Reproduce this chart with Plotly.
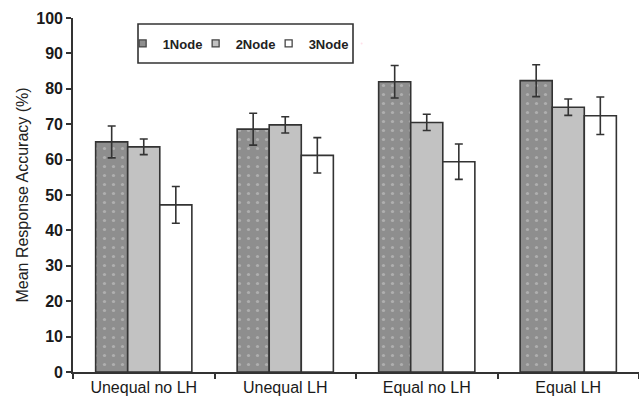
import plotly.graph_objects as go

categories = ["Unequal no LH", "Unequal LH", "Equal no LH", "Equal LH"]
series_names = ["1Node", "2Node", "3Node"]
node1 = [65.0, 68.6, 82.0, 82.3]
node1_err = [4.5, 4.5, 4.6, 4.5]
node2 = [63.6, 69.8, 70.5, 74.8]
node2_err = [2.2, 2.3, 2.3, 2.3]
node3 = [47.2, 61.2, 59.4, 72.4]
node3_err = [5.2, 5.0, 5.0, 5.3]
y_ticks = list(range(0, 101, 10))

edge = "#333333"
fills = ["#8e8e8e", "#c2c2c2", "#ffffff"]
fig = go.Figure()
for i, (name, vals, errs) in enumerate(zip(series_names, [node1, node2, node3], [node1_err, node2_err, node3_err])):
    marker = dict(color=fills[i], line=dict(color=edge, width=1.6))
    if i == 0:
        marker["pattern"] = dict(shape=".", fgcolor="#d0d0d0", bgcolor=fills[i], size=9, solidity=0.1)
    fig.add_trace(go.Bar(
        x=categories, y=vals, name=name, marker=marker, showlegend=False, legendgroup=name,
        error_y=dict(type="data", array=errs, visible=True, color=edge, thickness=1.6, width=4),
    ))
for i, name in enumerate(series_names):
    fig.add_trace(go.Scatter(
        x=[None], y=[None], mode="markers", name=name, legendgroup=name,
        marker=dict(symbol="square", size=7, color=fills[i], line=dict(color="#444444", width=1.3)),
    ))
# invisible spacer entry so the last legend label is not clipped
fig.add_trace(go.Scatter(x=[None], y=[None], mode="markers", name=" ",
                         marker=dict(size=1, opacity=0), hoverinfo="skip"))

fig.update_layout(
    barmode="group", bargap=0.32, bargroupgap=0,
    width=639, height=402,
    margin=dict(l=73, r=0, t=18, b=30),
    paper_bgcolor="white", plot_bgcolor="white",
    font=dict(family="Liberation Sans, Arial, sans-serif", color="#222222"),
    showlegend=True,
    legend=dict(orientation="h", x=0.0877, y=0.928, xanchor="left", yanchor="middle",
                bgcolor="rgba(0,0,0,0)", borderwidth=0,
                font=dict(size=13, color="#222222", family="Liberation Sans, Arial, sans-serif", weight="bold"),
                itemwidth=30, entrywidth=28, entrywidthmode="pixels", traceorder="normal",
                itemclick=False, itemdoubleclick=False),
    xaxis=dict(showline=True, linecolor=edge, linewidth=1.6, ticks="outside", tickson="boundaries",
               ticklen=5, tickcolor=edge, tickwidth=1.6,
               tickfont=dict(size=16, color="#1a1a1a"),
               showgrid=False, zeroline=False),
    yaxis=dict(range=[0, 100], tickvals=y_ticks, showline=True, linecolor=edge, linewidth=1.6,
               ticks="outside", ticklen=5, tickcolor=edge, tickwidth=1.6,
               tickfont=dict(size=16, color="#1a1a1a", weight="bold"),
               showgrid=False, zeroline=False,
               title=dict(text="Mean Response Accuracy (%)", font=dict(size=16, color="#222222"), standoff=4)),
    shapes=[dict(type="rect", xref="paper", yref="paper",
                 x0=(138 - 73) / 566, x1=(353 - 73) / 566,
                 y0=(372 - 63) / 354, y1=(372 - 24) / 354,
                 line=dict(color=edge, width=1.6), fillcolor="rgba(0,0,0,0)")],
)
fig.write_html("out.html")
